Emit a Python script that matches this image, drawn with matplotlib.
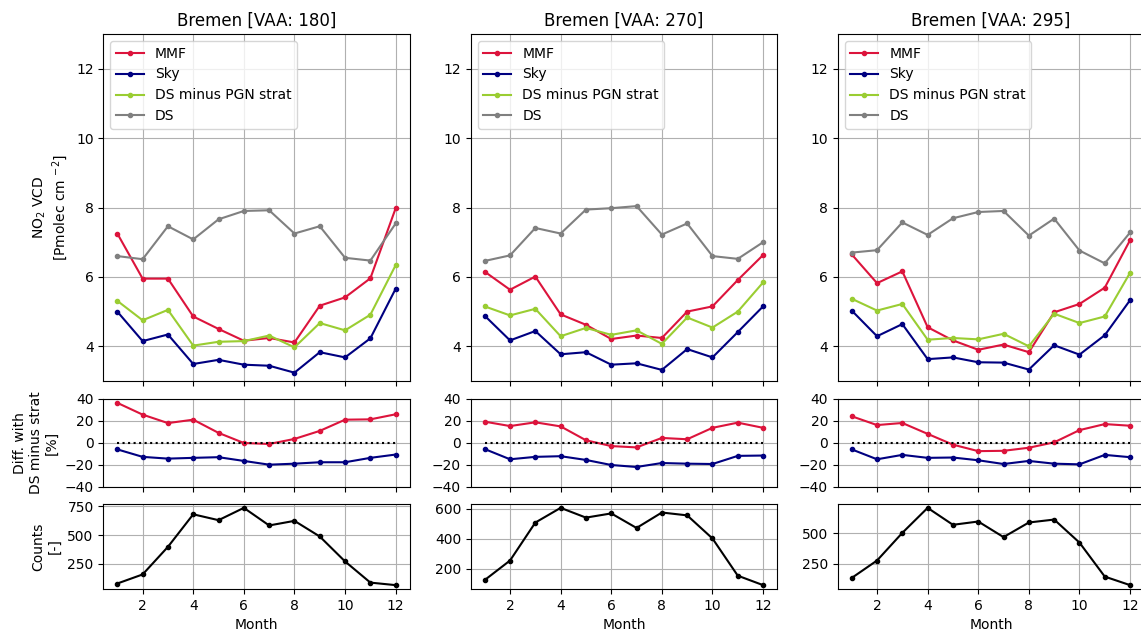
import matplotlib
matplotlib.use("Agg")
import matplotlib.pyplot as plt
import numpy as np


# =====================================
# DATA
# =====================================

MONTHS = list(range(1, 13))

VAA_ANGLES = [180, 270, 295]

MMF_VCD = [
    [7.25, 5.95, 5.95, 4.86, 4.50, 4.16, 4.24, 4.11, 5.17, 5.41, 5.96, 7.98],
    [6.15, 5.63, 6.01, 4.92, 4.62, 4.21, 4.31, 4.24, 5.00, 5.15, 5.91, 6.63],
    [6.65, 5.82, 6.16, 4.55, 4.17, 3.90, 4.05, 3.83, 4.98, 5.22, 5.69, 7.06],
]

SKY_VCD = [
    [5.00, 4.15, 4.34, 3.49, 3.61, 3.47, 3.44, 3.24, 3.83, 3.68, 4.23, 5.66],
    [4.88, 4.17, 4.44, 3.77, 3.83, 3.47, 3.51, 3.32, 3.92, 3.68, 4.41, 5.15],
    [5.03, 4.29, 4.64, 3.63, 3.68, 3.54, 3.53, 3.33, 4.03, 3.76, 4.32, 5.33],
]

DS_MINUS_STRAT_VCD = [
    [5.31, 4.75, 5.05, 4.02, 4.13, 4.15, 4.31, 3.97, 4.67, 4.46, 4.91, 6.34],
    [5.15, 4.89, 5.08, 4.29, 4.53, 4.33, 4.46, 4.07, 4.83, 4.54, 5.00, 5.84],
    [5.37, 5.03, 5.22, 4.19, 4.24, 4.20, 4.36, 4.00, 4.94, 4.67, 4.86, 6.12],
]

DS_VCD = [
    [6.60, 6.51, 7.46, 7.08, 7.66, 7.90, 7.92, 7.25, 7.46, 6.55, 6.47, 7.54],
    [6.46, 6.62, 7.41, 7.25, 7.94, 7.98, 8.04, 7.22, 7.54, 6.60, 6.52, 7.00],
    [6.70, 6.77, 7.57, 7.21, 7.69, 7.87, 7.90, 7.19, 7.68, 6.76, 6.39, 7.28],
]

MMF_DIFF = [
    [36.5, 25.8, 18.1, 21.2, 9.2, 0.0, -0.9, 3.7, 11.0, 21.2, 21.5, 26.1],
    [19.4, 15.4, 18.8, 15.1, 2.5, -2.8, -4.0, 4.6, 3.4, 13.8, 18.5, 13.8],
    [24.3, 16.3, 18.2, 8.3, -1.5, -7.4, -7.1, -4.3, 0.6, 11.7, 17.2, 15.7],
]

SKY_DIFF = [
    [-5.8, -12.6, -14.2, -13.5, -12.9, -16.3, -19.7, -18.8, -17.5, -17.5, -13.5, -10.5],
    [-5.5, -14.8, -12.6, -12.0, -15.4, -20.0, -21.8, -18.2, -18.8, -19.1, -11.7, -11.4],
    [-5.8, -14.8, -10.8, -13.5, -13.2, -15.7, -19.1, -16.3, -18.8, -19.4, -10.8, -12.9],
]

COUNTS = [
    [78, 157, 397, 680, 629, 736, 583, 623, 487, 270, 86, 64],
    [124, 254, 507, 605, 540, 568, 471, 574, 555, 401, 153, 90],
    [133, 276, 503, 708, 569, 596, 468, 588, 612, 423, 144, 74],
]

COUNT_TICKS = [
    [250, 500, 750],
    [200, 400, 600],
    [250, 500],
]

MMF_COLOR = "crimson"
SKY_COLOR = "navy"
DSM_COLOR = "yellowgreen"
DS_COLOR = "grey"


# =====================================
# FIGURE
# =====================================

fig = plt.figure(
    figsize=(11.41, 6.35),
    dpi=100
)

W, H = 1141.0, 635.0

col_left = [103.4, 470.8, 837.8]
col_width = 306.2

# (top, bottom) in pixels from the top edge
rows = [
    (34.0, 381.0),
    (399.0, 487.0),
    (504.0, 589.0),
]


def _rect(x0, row):
    top, bottom = row
    return [
        x0 / W,
        1 - bottom / H,
        col_width / W,
        (bottom - top) / H
    ]


for i, vaa in enumerate(VAA_ANGLES):

    ax_vcd = fig.add_axes(_rect(col_left[i], rows[0]))
    ax_diff = fig.add_axes(_rect(col_left[i], rows[1]), sharex=ax_vcd)
    ax_cnt = fig.add_axes(_rect(col_left[i], rows[2]), sharex=ax_vcd)

    # ---- VCD panel ----
    ax_vcd.plot(MONTHS, MMF_VCD[i], marker=".", color=MMF_COLOR, label="MMF")
    ax_vcd.plot(MONTHS, SKY_VCD[i], marker=".", color=SKY_COLOR, label="Sky")
    ax_vcd.plot(
        MONTHS,
        DS_MINUS_STRAT_VCD[i],
        marker=".",
        color=DSM_COLOR,
        label="DS minus PGN strat"
    )
    ax_vcd.plot(MONTHS, DS_VCD[i], marker=".", color=DS_COLOR, label="DS")

    ax_vcd.set_ylim(3, 13)
    ax_vcd.set_yticks([4, 6, 8, 10, 12])
    ax_vcd.set_title(f"Bremen [VAA: {vaa}]", fontsize=12)
    ax_vcd.legend(loc="upper left")
    ax_vcd.grid(True)
    ax_vcd.tick_params(labelbottom=False)

    # ---- difference panel ----
    ax_diff.plot(MONTHS, MMF_DIFF[i], marker=".", color=MMF_COLOR)
    ax_diff.plot(MONTHS, SKY_DIFF[i], marker=".", color=SKY_COLOR)
    ax_diff.plot(MONTHS, np.zeros(len(MONTHS)), "k:")
    ax_diff.set_ylim(-40, 40)
    ax_diff.set_yticks([-40, -20, 0, 20, 40])
    ax_diff.grid(True)
    ax_diff.tick_params(labelbottom=False)

    # ---- counts panel ----
    ax_cnt.plot(MONTHS, COUNTS[i], marker=".", color="black")
    ax_cnt.set_yticks(COUNT_TICKS[i])
    ax_cnt.set_xticks([2, 4, 6, 8, 10, 12])
    ax_cnt.set_xlabel("Month")
    ax_cnt.grid(True)

    if i == 0:
        ax_vcd.set_ylabel("NO$_2$ VCD\n[Pmolec cm $^{-2}$]")
        ax_diff.set_ylabel("Diff. with\nDS minus strat\n[%]")
        ax_cnt.set_ylabel("Counts\n[-]")


fig.savefig("out.png", dpi=100)
